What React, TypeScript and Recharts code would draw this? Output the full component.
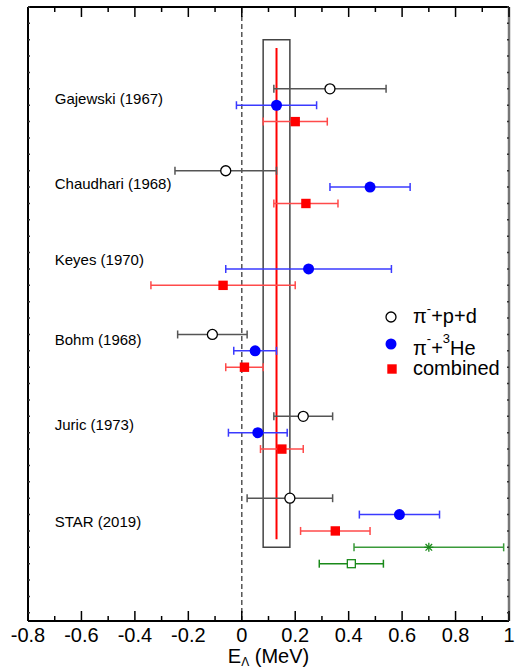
import React from "react";
import {
  ScatterChart,
  Scatter,
  XAxis,
  YAxis,
  ErrorBar,
  ReferenceLine,
  ReferenceArea,
} from "recharts";

// experiment labels and the row (y) they sit at
const experiments = [
  "Gajewski (1967)",
  "Chaudhari (1968)",
  "Keyes (1970)",
  "Bohm (1968)",
  "Juric (1973)",
  "STAR (2019)",
];
const labelRows = [0.6, 5.8, 10.4, 15.3, 20.5, 26.4];

// pi- + p + d
const pdRows = [0, 5, 15, 20, 25];
const pdValues = [0.33, -0.06, -0.11, 0.23, 0.18];
const pdErrors = [0.21, 0.19, 0.13, 0.11, 0.16];

// pi- + 3He
const heRows = [1, 6, 11, 16, 21, 26];
const heValues = [0.13, 0.48, 0.25, 0.05, 0.06, 0.59];
const heErrors = [0.15, 0.15, 0.31, 0.08, 0.11, 0.15];

// combined
const combRows = [2, 7, 12, 17, 22, 27];
const combValues = [0.2, 0.24, -0.07, 0.01, 0.15, 0.35];
const combErrors = [0.12, 0.12, 0.27, 0.07, 0.08, 0.13];

// extra green points under STAR
const starRows = [28];
const starValues = [0.7];
const starErrors = [0.28];
const squareRows = [29];
const squareValues = [0.41];
const squareErrors = [0.12];

// world average band
const avgValue = 0.13;
const avgLow = 0.08;
const avgHigh = 0.18;

const xTicks = [
  -0.8, -0.7, -0.6, -0.5, -0.4, -0.3, -0.2, -0.1, 0, 0.1, 0.2, 0.3, 0.4, 0.5,
  0.6, 0.7, 0.8, 0.9, 1,
];
const xLabels: Record<string, string> = {
  "-0.8": "-0.8",
  "-0.6": "-0.6",
  "-0.4": "-0.4",
  "-0.2": "-0.2",
  "0": "0",
  "0.2": "0.2",
  "0.4": "0.4",
  "0.6": "0.6",
  "0.8": "0.8",
  "1": "1",
};
const yTicks = [
  -5, -4, -3, -2, -1, 0, 1, 2, 3, 4, 5, 6, 7, 8, 9, 10, 11, 12, 13, 14, 15, 16,
  17, 18, 19, 20, 21, 22, 23, 24, 25, 26, 27, 28, 29, 30, 31, 32,
];

const toPoints = (rows: number[], vals: number[], errs: number[]) =>
  rows.map((r, i) => ({ x: vals[i], y: r, err: errs[i] }));

const pdData = toPoints(pdRows, pdValues, pdErrors);
const heData = toPoints(heRows, heValues, heErrors);
const combData = toPoints(combRows, combValues, combErrors);
const starData = toPoints(starRows, starValues, starErrors);
const squareData = toPoints(squareRows, squareValues, squareErrors);
const labelData = experiments.map((name, i) => ({ x: -0.7, y: labelRows[i], name }));

const FONT = "'Liberation Sans', Arial, sans-serif";

const BottomTick = (props: any) => {
  const { x, y, payload } = props;
  const label = xLabels[String(payload.value)];
  const major = label !== undefined;
  return (
    <g>
      <line x1={x} x2={x} y1={y} y2={y - (major ? 10 : 5)} stroke="#000" strokeWidth={1.5} />
      {major && (
        <text x={x} y={y + 21} textAnchor="middle" fontSize={20} fontFamily={FONT} fill="#000">
          {label}
        </text>
      )}
    </g>
  );
};

const TopTick = (props: any) => {
  const { x, y, payload } = props;
  const major = xLabels[String(payload.value)] !== undefined;
  return <line x1={x} x2={x} y1={y} y2={y + (major ? 10 : 5)} stroke="#000" strokeWidth={1.5} />;
};

const LeftTick = (props: any) => {
  const { x, y } = props;
  return <line x1={x} x2={x + 2} y1={y} y2={y} stroke="#333" strokeWidth={1.5} />;
};

const RightTick = (props: any) => {
  const { x, y } = props;
  return <line x1={x} x2={x - 2} y1={y} y2={y} stroke="#333" strokeWidth={1.5} />;
};

const OpenCircle = (p: any) => (
  <circle cx={p.cx} cy={p.cy} r={5} fill="#fff" stroke="#000" strokeWidth={1.3} />
);
const BlueDot = (p: any) => <circle cx={p.cx} cy={p.cy} r={5.5} fill="#0000ff" />;
const RedSquare = (p: any) => (
  <rect x={p.cx - 4.7} y={p.cy - 4.7} width={9.4} height={9.4} fill="#ff0000" />
);
const GreenStar = (p: any) => (
  <g stroke="#1a8a1a" strokeWidth={1.3}>
    <line x1={p.cx - 4.5} x2={p.cx + 4.5} y1={p.cy} y2={p.cy} />
    <line x1={p.cx} x2={p.cx} y1={p.cy - 4.5} y2={p.cy + 4.5} />
    <line x1={p.cx - 3.3} x2={p.cx + 3.3} y1={p.cy - 3.3} y2={p.cy + 3.3} />
    <line x1={p.cx - 3.3} x2={p.cx + 3.3} y1={p.cy + 3.3} y2={p.cy - 3.3} />
  </g>
);
const GreenSquare = (p: any) => (
  <rect x={p.cx - 4} y={p.cy - 4} width={8} height={8} fill="#fff" stroke="#1a8a1a" strokeWidth={1.3} />
);
const LabelText = (p: any) => (
  <text x={p.cx} y={p.cy} dominantBaseline="central" fontSize={15} fontFamily={FONT} fill="#000">
    {p.payload.name}
  </text>
);

const AxisTitle = (props: any) => {
  const { viewBox } = props;
  const cx = viewBox.x + viewBox.width / 2;
  return (
    <text x={cx} y={viewBox.y + 42} textAnchor="middle" fontSize={20} fontFamily={FONT} fill="#000">
      E
      <tspan fontSize={12} dy={3}>Λ</tspan>
      <tspan dy={-3}> (MeV)</tspan>
    </text>
  );
};

const LegendBox = () => (
  <svg width={521} height={671} style={{ position: "absolute", left: 0, top: 0, pointerEvents: "none" }}>
    <circle cx={391} cy={317} r={5} fill="#fff" stroke="#000" strokeWidth={1.3} />
    <text x={413} y={323} fontSize={20} fontFamily={FONT} fill="#000">
      π<tspan fontSize={13} dy={-10}>-</tspan>
      <tspan dy={10}>+p+d</tspan>
    </text>
    <circle cx={391} cy={344} r={5.5} fill="#0000ff" />
    <text x={413} y={355} fontSize={20} fontFamily={FONT} fill="#000">
      π<tspan fontSize={13} dy={-12}>-</tspan>
      <tspan dy={12}>+</tspan>
      <tspan fontSize={13} dy={-12}>3</tspan>
      <tspan dy={12}>He</tspan>
    </text>
    <rect x={387.3} y={364.3} width={9.4} height={9.4} fill="#ff0000" />
    <text x={413} y={375} fontSize={20} fontFamily={FONT} fill="#000">
      combined
    </text>
  </svg>
);

export default function App() {
  return (
    <div style={{ position: "absolute", left: 0, top: 0, width: 521, height: 671, background: "#fff" }}>
      <ScatterChart width={521} height={671} margin={{ top: 6, right: 11, bottom: 0, left: 27 }}>
        <XAxis
          xAxisId="bottom"
          dataKey="x"
          type="number"
          domain={[-0.8, 1]}
          ticks={xTicks}
          interval={0}
          height={50}
          tickSize={0}
          tickMargin={0}
          tickLine={false}
          tick={BottomTick}
          axisLine={{ stroke: "#000", strokeWidth: 2 }}
          allowDataOverflow
          label={AxisTitle}
        />
        <XAxis
          xAxisId="top"
          orientation="top"
          dataKey="x"
          type="number"
          domain={[-0.8, 1]}
          ticks={xTicks}
          interval={0}
          height={1}
          tickSize={0}
          tickMargin={0}
          tickLine={false}
          tick={TopTick}
          axisLine={{ stroke: "#000", strokeWidth: 2 }}
          allowDataOverflow
        />
        <YAxis
          yAxisId="left"
          dataKey="y"
          type="number"
          domain={[-5, 32.5]}
          reversed
          ticks={yTicks}
          interval={0}
          width={1}
          tickSize={0}
          tickMargin={0}
          tickLine={false}
          tick={LeftTick}
          axisLine={{ stroke: "#000", strokeWidth: 2 }}
          allowDataOverflow
        />
        <YAxis
          yAxisId="right"
          orientation="right"
          dataKey="y"
          type="number"
          domain={[-5, 32.5]}
          reversed
          ticks={yTicks}
          interval={0}
          width={1}
          tickSize={0}
          tickMargin={0}
          tickLine={false}
          tick={RightTick}
          axisLine={{ stroke: "#777", strokeWidth: 2.5 }}
          allowDataOverflow
        />

        <ReferenceLine
          xAxisId="bottom"
          yAxisId="left"
          x={0}
          stroke="#555"
          strokeWidth={1.5}
          strokeDasharray="5 3"
        />
        <ReferenceArea
          xAxisId="bottom"
          yAxisId="left"
          x1={avgLow}
          x2={avgHigh}
          y1={-3}
          y2={28}
          fill="none"
          stroke="#444"
          strokeWidth={1.5}
          fillOpacity={0}
        />
        <ReferenceLine
          xAxisId="bottom"
          yAxisId="left"
          segment={[
            { x: avgValue, y: -2.5 },
            { x: avgValue, y: 27.5 },
          ]}
          stroke="#ff0000"
          strokeWidth={2}
        />

        <Scatter xAxisId="bottom" yAxisId="left" data={labelData} shape={LabelText} isAnimationActive={false} />

        <Scatter xAxisId="bottom" yAxisId="left" data={pdData} shape={OpenCircle} isAnimationActive={false}>
          <ErrorBar dataKey="err" direction="x" width={4} stroke="#555" strokeWidth={1.5} />
        </Scatter>
        <Scatter xAxisId="bottom" yAxisId="left" data={heData} shape={BlueDot} isAnimationActive={false}>
          <ErrorBar dataKey="err" direction="x" width={4} stroke="#3a3aff" strokeWidth={1.5} />
        </Scatter>
        <Scatter xAxisId="bottom" yAxisId="left" data={combData} shape={RedSquare} isAnimationActive={false}>
          <ErrorBar dataKey="err" direction="x" width={4} stroke="#ff4a4a" strokeWidth={1.5} />
        </Scatter>
        <Scatter xAxisId="bottom" yAxisId="left" data={starData} shape={GreenStar} isAnimationActive={false}>
          <ErrorBar dataKey="err" direction="x" width={4} stroke="#3a9a3a" strokeWidth={1.5} />
        </Scatter>
        <Scatter xAxisId="bottom" yAxisId="left" data={squareData} shape={GreenSquare} isAnimationActive={false}>
          <ErrorBar dataKey="err" direction="x" width={4} stroke="#1a8a1a" strokeWidth={1.5} />
        </Scatter>
      </ScatterChart>
      <LegendBox />
    </div>
  );
}
